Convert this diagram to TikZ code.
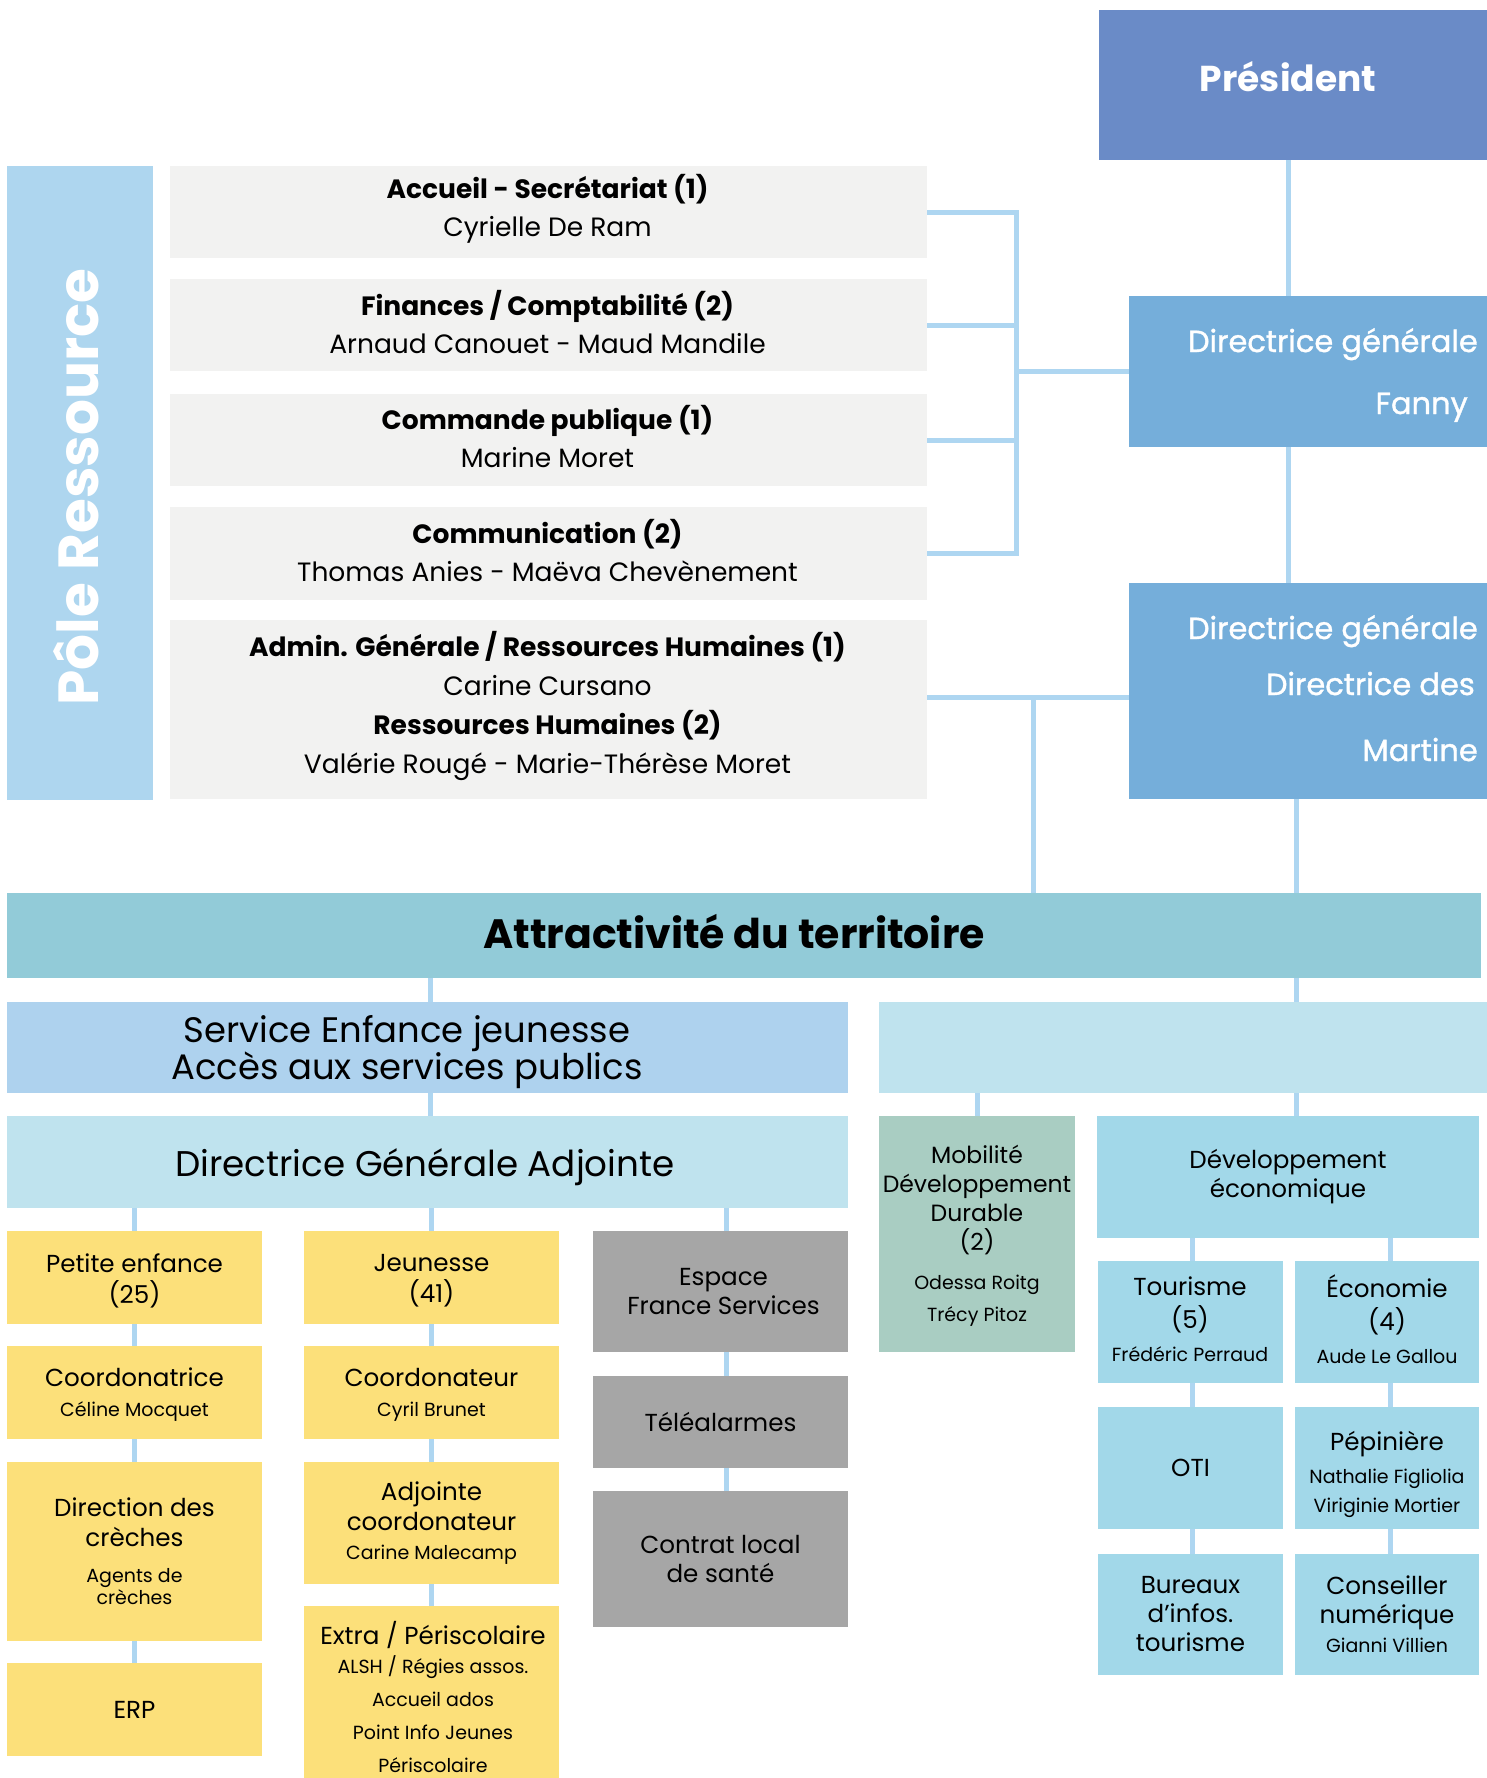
\documentclass[tikz,border=0pt]{standalone}
\usepackage{fontspec}
\setmainfont{Poppins}
\newfontfamily\medfont{Poppins}[FakeBold=1.2]
\usetikzlibrary{calc}
\definecolor{cPres}{HTML}{6A8BC7}
\definecolor{cDG}{HTML}{75AEDA}
\definecolor{cPole}{HTML}{AED6EF}
\definecolor{cGrey}{HTML}{F2F2F1}
\definecolor{cLine}{HTML}{AED6F1}
\definecolor{cAttr}{HTML}{92CBD8}
\definecolor{cSvc}{HTML}{AED2EE}
\definecolor{cLight}{HTML}{BFE3EE}
\definecolor{cYel}{HTML}{FCE07A}
\definecolor{cGr}{HTML}{A6A6A6}
\definecolor{cSage}{HTML}{A9CDC2}
\definecolor{cDev}{HTML}{A2D8E9}
\newcommand\nmsz{\fontsize{19}{29}\selectfont}
\begin{document}
\begin{tikzpicture}[x=1pt,y=-1pt,
  box/.style={anchor=north west, inner sep=0pt, outer sep=0pt, align=center, text=black},
  conn/.style={draw=cLine, line width=5pt},
  ttl/.style={font=\fontsize{24.6}{31}\selectfont},
  rttl/.style={font=\fontsize{24.6}{29}\selectfont},
  tnode/.style={align=center, inner sep=0pt},
  gbox/.style={box, fill=cGrey, minimum width=757},
  gtxt/.style={align=center, inner sep=0pt, font=\fontsize{26.5}{38}\selectfont},
  wlab/.style={anchor=base east, inner sep=0pt, text=white, font=\medfont\fontsize{30.5}{30.5}\selectfont}
]
\useasboundingbox (0,0) rectangle (1487,1778);

% ---------- top ----------
\node[box,fill=cPres,minimum width=388,minimum height=150] (pres) at (1099,10) {};
\node[anchor=base,inner sep=0pt,text=white,font=\bfseries\fontsize{36}{36}\selectfont] (presT) at (1288,91) {Président};

\node[box,fill=cPole,minimum width=146,minimum height=634] (pole) at (7,166) {};
\node[anchor=base,inner sep=0pt,rotate=90,text=white,font=\bfseries\fontsize{56.5}{56.5}\selectfont] (poleT) at (98,487) {Pôle Ressource};

\node[gbox,minimum height=92] (acc) at (170,166) {};
\node[gtxt] (accT) at ($(acc.center)+(-1,-3)$) {\textbf{Accueil - Secrétariat (1)}\\Cyrielle De Ram};
\node[gbox,minimum height=92] (fin) at (170,279) {};
\node[gtxt] (finT) at ($(fin.center)+(-1,-3)$) {\textbf{Finances / Comptabilité (2)}\\Arnaud Canouet - Maud Mandile};
\node[gbox,minimum height=92] (cmd) at (170,394) {};
\node[gtxt] (cmdT) at ($(cmd.center)+(-1,-3)$) {\textbf{Commande publique (1)}\\Marine Moret};
\node[gbox,minimum height=93] (com) at (170,507) {};
\node[gtxt] (comT) at ($(com.center)+(-1,-3)$) {\textbf{Communication (2)}\\Thomas Anies - Maëva Chevènement};
\node[gbox,minimum height=179] (adm) at (170,620) {};
\node[gtxt,font=\fontsize{26.5}{39}\selectfont] (admT) at ($(adm.center)+(-1,-4)$) {\textbf{Admin. Générale / Ressources Humaines (1)}\\Carine Cursano\\\textbf{Ressources Humaines (2)}\\Valérie Rougé - Marie-Thérèse Moret};

\node[box,fill=cDG,minimum width=358,minimum height=151] (dg) at (1129,296) {};
\node[wlab] (dgT1) at (1478,352) {Directrice générale};
\node[wlab] (dgT2) at (1468,414) {Fanny};

\node[box,fill=cDG,minimum width=358,minimum height=216] (dgs) at (1129,583) {};
\node[wlab] (dgsT1) at (1478,639) {Directrice générale};
\node[wlab] (dgsT2) at (1475,695) {Directrice des};
\node[wlab] (dgsT3) at (1478,761) {Martine};

% ---------- attractivite ----------
\node[box,fill=cAttr,minimum width=1474,minimum height=85] (attr) at (7,893) {};
\node[anchor=base,inner sep=0pt,font=\bfseries\fontsize{41}{41}\selectfont] (attrT) at (734,948) {Attractivité du territoire};

\node[box,fill=cSvc,minimum width=841,minimum height=91] (svc) at (7,1002) {};
\node[tnode,font=\fontsize{35.4}{37.5}\selectfont] (svcT) at (407,1052) {Service Enfance jeunesse\\Accès aux services publics};
\node[box,fill=cLight,minimum width=608,minimum height=91] (rtop) at (879,1002) {};

\node[box,fill=cLight,minimum width=841,minimum height=92] (dga) at (7,1116) {};
\node[tnode,font=\fontsize{35.7}{35.7}\selectfont] (dgaT) at (425,1167) {Directrice Générale Adjointe};

% ---------- column 1 ----------
\node[box,fill=cYel,minimum width=255,minimum height=93] (pe) at (7,1231) {};
\node[tnode,ttl] (peT) at (134.5,1281) {Petite enfance\\(25)};
\node[box,fill=cYel,minimum width=255,minimum height=93] (co1) at (7,1346) {};
\node[tnode,ttl] (co1T) at (134.5,1395) {Coordonatrice\\[-1pt]{\nmsz Céline Mocquet}};
\node[box,ttl,fill=cYel,minimum width=255,minimum height=179] (dcr) at (7,1462) {Direction des\\[-1pt]crèches\\[5pt]{\nmsz Agents de}\\[-9pt]{\nmsz crèches}};
\node[box,ttl,fill=cYel,minimum width=255,minimum height=93] (erp) at (7,1663) {ERP};

% ---------- column 2 ----------
\node[box,fill=cYel,minimum width=255,minimum height=93] (jeu) at (304,1231) {};
\node[tnode,ttl] (jeuT) at (431.5,1281) {Jeunesse\\(41)};
\node[box,fill=cYel,minimum width=255,minimum height=93] (co2) at (304,1346) {};
\node[tnode,ttl] (co2T) at (431.5,1395) {Coordonateur\\[-1pt]{\nmsz Cyril Brunet}};
\node[box,ttl,fill=cYel,minimum width=255,minimum height=122] (adj) at (304,1462) {Adjointe\\[-1pt]coordonateur\\[-2pt]{\nmsz Carine Malecamp}};
\node[box,fill=cYel,minimum width=255,minimum height=172] (ext) at (304,1606) {};
\node[tnode,ttl] (extT) at (433,1697) {Extra / Périscolaire\\[-2pt]{\nmsz ALSH / Régies assos.}\\[2pt]{\nmsz Accueil ados}\\[2pt]{\nmsz Point Info Jeunes}\\[2pt]{\nmsz Périscolaire}};

% ---------- column 3 ----------
\node[box,rttl,fill=cGr,minimum width=255,minimum height=121] (efs) at (593,1231) {\hspace*{6pt}Espace\\\hspace*{6pt}France Services};
\node[box,rttl,fill=cGr,minimum width=255,minimum height=92] (tel) at (593,1376) {Téléalarmes};
\node[box,rttl,fill=cGr,minimum width=255,minimum height=136] (cls) at (593,1491) {Contrat local\\de santé};

% ---------- right ----------
\node[box,fill=cSage,minimum width=196,minimum height=236] (mob) at (879,1116) {};
\node[tnode,font=\fontsize{23.5}{29}\selectfont] (mobT) at (977,1236) {Mobilité\\Développement\\Durable\\(2)\\[10pt]{\nmsz Odessa Roitg}\\[3pt]{\nmsz Trécy Pitoz}};
\node[box,rttl,fill=cDev,minimum width=382,minimum height=122] (dev) at (1097,1116) {Développement\\économique};
\node[box,fill=cDev,minimum width=185,minimum height=122] (tour) at (1098,1261) {};
\node[tnode,rttl] (tourT) at (1190,1319) {Tourisme\\[4pt](5)\\[4pt]{\nmsz Frédéric Perraud}};
\node[box,fill=cDev,minimum width=184,minimum height=122] (eco) at (1295,1261) {};
\node[tnode,rttl] (ecoT) at (1387,1319) {Économie\\[4pt](4)\\[4pt]{\nmsz Aude Le Gallou}};
\node[box,rttl,fill=cDev,minimum width=185,minimum height=122] (oti) at (1098,1407) {OTI};
\node[box,fill=cDev,minimum width=184,minimum height=122] (pep) at (1295,1407) {};
\node[tnode,rttl] (pepT) at (1387,1474) {Pépinière\\[4pt]{\nmsz Nathalie Figliolia}\\[0pt]{\nmsz Viriginie Mortier}};
\node[box,rttl,fill=cDev,minimum width=185,minimum height=121] (bur) at (1098,1554) {Bureaux\\d’infos.\\tourisme};
\node[box,rttl,fill=cDev,minimum width=184,minimum height=121] (cons) at (1295,1554) {Conseiller\\numérique\\{\nmsz Gianni Villien}};

% ---------- connectors ----------
\coordinate (xp) at (1288,0);
\coordinate (brk) at (1016,0);
\coordinate (ya) at (0,697);
\coordinate (xb) at (1033,0);
\coordinate (xd) at (1296,0);
\coordinate (xs) at (430,0);
\coordinate (xc1) at (134,0);
\coordinate (xc2) at (431,0);
\coordinate (xc3) at (726,0);
\coordinate (xm) at (977,0);
\coordinate (xt) at (1192,0);
\coordinate (xe) at (1390,0);

\draw[conn] (pres.south -| xp) -- (dg.north -| xp);
\draw[conn] (dg.south -| xp) -- (dgs.north -| xp);
\draw[conn,line join=miter] (acc.east) -- (acc.east -| brk) -- (com.east -| brk) -- (com.east);
\draw[conn] (fin.east) -- (fin.east -| brk);
\draw[conn] (cmd.east) -- (cmd.east -| brk);
\draw[conn] (dg.west) -- (dg.west -| brk);
\draw[conn] (adm.east |- ya) -- (dgs.west |- ya);
\draw[conn] (xb |- ya) -- (xb |- attr.north);
\draw[conn] (dgs.south -| xd) -- (attr.north -| xd);
\draw[conn] (attr.south -| xs) -- (svc.north -| xs);
\draw[conn] (attr.south -| xd) -- (rtop.north -| xd);
\draw[conn] (svc.south -| xs) -- (dga.north -| xs);

\draw[conn] (dga.south -| xc1) -- (pe.north -| xc1);
\draw[conn] (pe.south -| xc1) -- (co1.north -| xc1);
\draw[conn] (co1.south -| xc1) -- (dcr.north -| xc1);
\draw[conn] (dcr.south -| xc1) -- (erp.north -| xc1);

\draw[conn] (dga.south -| xc2) -- (jeu.north -| xc2);
\draw[conn] (jeu.south -| xc2) -- (co2.north -| xc2);
\draw[conn] (co2.south -| xc2) -- (adj.north -| xc2);
\draw[conn] (adj.south -| xc2) -- (ext.north -| xc2);

\draw[conn] (dga.south -| xc3) -- (efs.north -| xc3);
\draw[conn] (efs.south -| xc3) -- (tel.north -| xc3);
\draw[conn] (tel.south -| xc3) -- (cls.north -| xc3);

\draw[conn] (rtop.south -| xm) -- (mob.north -| xm);
\draw[conn] (rtop.south -| xd) -- (dev.north -| xd);
\draw[conn] (dev.south -| xt) -- (tour.north -| xt);
\draw[conn] (tour.south -| xt) -- (oti.north -| xt);
\draw[conn] (oti.south -| xt) -- (bur.north -| xt);
\draw[conn] (dev.south -| xe) -- (eco.north -| xe);
\draw[conn] (eco.south -| xe) -- (pep.north -| xe);
\draw[conn] (pep.south -| xe) -- (cons.north -| xe);
\end{tikzpicture}
\end{document}
